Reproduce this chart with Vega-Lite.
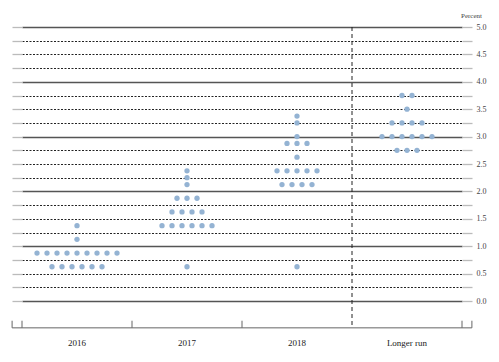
{
  "$schema": "https://vega.github.io/schema/vega-lite/v6.json",
  "width": 440,
  "height": 274,
  "autosize": {"type": "none"},
  "padding": {"left": 22, "top": 27, "right": 37, "bottom": 61},
  "background": "white",
  "config": {"view": {"stroke": null}, "font": "Liberation Serif"},
  "datasets": {
    "dots": [
      {"period": "2016", "rate": 1.375, "slot": 0},
      {"period": "2016", "rate": 1.125, "slot": 0},
      {"period": "2016", "rate": 0.875, "slot": -4},
      {"period": "2016", "rate": 0.875, "slot": -3},
      {"period": "2016", "rate": 0.875, "slot": -2},
      {"period": "2016", "rate": 0.875, "slot": -1},
      {"period": "2016", "rate": 0.875, "slot": 0},
      {"period": "2016", "rate": 0.875, "slot": 1},
      {"period": "2016", "rate": 0.875, "slot": 2},
      {"period": "2016", "rate": 0.875, "slot": 3},
      {"period": "2016", "rate": 0.875, "slot": 4},
      {"period": "2016", "rate": 0.625, "slot": -2.5},
      {"period": "2016", "rate": 0.625, "slot": -1.5},
      {"period": "2016", "rate": 0.625, "slot": -0.5},
      {"period": "2016", "rate": 0.625, "slot": 0.5},
      {"period": "2016", "rate": 0.625, "slot": 1.5},
      {"period": "2016", "rate": 0.625, "slot": 2.5},

      {"period": "2017", "rate": 2.375, "slot": 0},
      {"period": "2017", "rate": 2.25, "slot": 0},
      {"period": "2017", "rate": 2.125, "slot": 0},
      {"period": "2017", "rate": 1.875, "slot": -1},
      {"period": "2017", "rate": 1.875, "slot": 0},
      {"period": "2017", "rate": 1.875, "slot": 1},
      {"period": "2017", "rate": 1.625, "slot": -1.5},
      {"period": "2017", "rate": 1.625, "slot": -0.5},
      {"period": "2017", "rate": 1.625, "slot": 0.5},
      {"period": "2017", "rate": 1.625, "slot": 1.5},
      {"period": "2017", "rate": 1.375, "slot": -2.5},
      {"period": "2017", "rate": 1.375, "slot": -1.5},
      {"period": "2017", "rate": 1.375, "slot": -0.5},
      {"period": "2017", "rate": 1.375, "slot": 0.5},
      {"period": "2017", "rate": 1.375, "slot": 1.5},
      {"period": "2017", "rate": 1.375, "slot": 2.5},
      {"period": "2017", "rate": 0.625, "slot": 0},

      {"period": "2018", "rate": 3.375, "slot": 0},
      {"period": "2018", "rate": 3.25, "slot": 0},
      {"period": "2018", "rate": 3.0, "slot": 0},
      {"period": "2018", "rate": 2.875, "slot": -1},
      {"period": "2018", "rate": 2.875, "slot": 0},
      {"period": "2018", "rate": 2.875, "slot": 1},
      {"period": "2018", "rate": 2.625, "slot": 0},
      {"period": "2018", "rate": 2.375, "slot": -2},
      {"period": "2018", "rate": 2.375, "slot": -1},
      {"period": "2018", "rate": 2.375, "slot": 0},
      {"period": "2018", "rate": 2.375, "slot": 1},
      {"period": "2018", "rate": 2.375, "slot": 2},
      {"period": "2018", "rate": 2.125, "slot": -1.5},
      {"period": "2018", "rate": 2.125, "slot": -0.5},
      {"period": "2018", "rate": 2.125, "slot": 0.5},
      {"period": "2018", "rate": 2.125, "slot": 1.5},
      {"period": "2018", "rate": 0.625, "slot": 0},

      {"period": "Longer run", "rate": 3.75, "slot": -0.5},
      {"period": "Longer run", "rate": 3.75, "slot": 0.5},
      {"period": "Longer run", "rate": 3.5, "slot": 0},
      {"period": "Longer run", "rate": 3.25, "slot": -1.5},
      {"period": "Longer run", "rate": 3.25, "slot": -0.5},
      {"period": "Longer run", "rate": 3.25, "slot": 0.5},
      {"period": "Longer run", "rate": 3.25, "slot": 1.5},
      {"period": "Longer run", "rate": 3.0, "slot": -2.5},
      {"period": "Longer run", "rate": 3.0, "slot": -1.5},
      {"period": "Longer run", "rate": 3.0, "slot": -0.5},
      {"period": "Longer run", "rate": 3.0, "slot": 0.5},
      {"period": "Longer run", "rate": 3.0, "slot": 1.5},
      {"period": "Longer run", "rate": 3.0, "slot": 2.5},
      {"period": "Longer run", "rate": 2.75, "slot": -1},
      {"period": "Longer run", "rate": 2.75, "slot": 0},
      {"period": "Longer run", "rate": 2.75, "slot": 1}
    ],
    "bracket": [
      {"a": -0.09, "b": 4.09, "lo": -0.49, "hi": -0.49},
      {"a": -0.09, "b": -0.09, "lo": -0.49, "hi": -0.36},
      {"a": 0, "b": 0, "lo": -0.49, "hi": -0.36},
      {"a": 1, "b": 1, "lo": -0.49, "hi": -0.36},
      {"a": 2, "b": 2, "lo": -0.49, "hi": -0.36},
      {"a": 4, "b": 4, "lo": -0.49, "hi": -0.36},
      {"a": 4.09, "b": 4.09, "lo": -0.49, "hi": -0.36}
    ]
  },
  "layer": [
    {
      "data": {"name": "dots"},
      "mark": {"type": "circle", "size": 28, "opacity": 1, "color": "#94b3d3"},
      "encoding": {
        "x": {
          "field": "period", "type": "nominal",
          "scale": {"domain": ["2016", "2017", "2018", "Longer run"], "paddingInner": 0, "paddingOuter": 0},
          "axis": {"title": null, "domain": false, "ticks": false, "tickSize": 0, "labelPadding": 37, "labelFontSize": 9, "labelColor": "#222", "labelAngle": 0, "labelFont": "Liberation Serif"}
        },
        "xOffset": {"field": "slot", "type": "quantitative", "scale": {"domain": [-5.5, 5.5]}},
        "y": {
          "field": "rate", "type": "quantitative",
          "scale": {"domain": [0, 5], "nice": false, "zero": false},
          "axis": {
            "orient": "left", "title": null,
            "values": [0, 0.25, 0.5, 0.75, 1, 1.25, 1.5, 1.75, 2, 2.25, 2.5, 2.75, 3, 3.25, 3.5, 3.75, 4, 4.25, 4.5, 4.75, 5],
            "labels": false, "domain": false, "tickSize": 10, "tickColor": "#bbbbbb", "tickWidth": 1.3,
            "grid": true,
            "gridColor": {"condition": {"test": "datum.value % 1 === 0", "value": "#555555"}, "value": "#222222"},
            "gridDash": {"condition": {"test": "datum.value % 1 === 0", "value": []}, "value": [2, 1.5]},
            "gridWidth": {"condition": {"test": "datum.value % 1 === 0", "value": 1.3}, "value": 1},
            "gridOpacity": 1
          }
        }
      }
    },
    {
      "data": {"values": [{"divider": "Longer run"}]},
      "mark": {"type": "rule", "color": "#222222", "strokeDash": [4, 3], "strokeWidth": 1},
      "encoding": {
        "x": {"field": "divider", "type": "nominal", "bandPosition": 0,
              "scale": {"domain": ["2016", "2017", "2018", "Longer run"], "paddingInner": 0, "paddingOuter": 0},
              "axis": null},
        "y": {
          "datum": 5, "type": "quantitative",
          "scale": {"domain": [0, 5], "nice": false, "zero": false},
          "axis": {
            "orient": "right", "title": "Percent", "titleAngle": 0, "titleX": 9, "titleY": -12,
            "titleAlign": "center", "titleBaseline": "middle", "titleFontSize": 7, "titleFontWeight": "normal",
            "titleColor": "#444444", "titleFont": "Liberation Serif",
            "values": [0, 0.25, 0.5, 0.75, 1, 1.25, 1.5, 1.75, 2, 2.25, 2.5, 2.75, 3, 3.25, 3.5, 3.75, 4, 4.25, 4.5, 4.75, 5],
            "labelExpr": "datum.value % 0.5 === 0 ? format(datum.value, '.1f') : ''",
            "labelFontSize": 8, "labelColor": "#444444", "labelPadding": 4, "labelFont": "Liberation Serif",
            "tickSize": 10, "tickColor": "#bbbbbb", "tickWidth": 1.3, "domain": false, "grid": false
          }
        },
        "y2": {"datum": -0.49}
      }
    },
    {
      "data": {"name": "bracket"},
      "mark": {"type": "rule", "color": "#666666", "strokeWidth": 1},
      "encoding": {
        "x": {"field": "a", "type": "quantitative", "scale": {"domain": [0, 4], "nice": false, "zero": false}, "axis": null},
        "x2": {"field": "b"},
        "y": {"field": "lo", "type": "quantitative", "axis": null},
        "y2": {"field": "hi"}
      }
    }
  ],
  "resolve": {"scale": {"x": "independent"}, "axis": {"x": "independent", "y": "independent"}}
}
